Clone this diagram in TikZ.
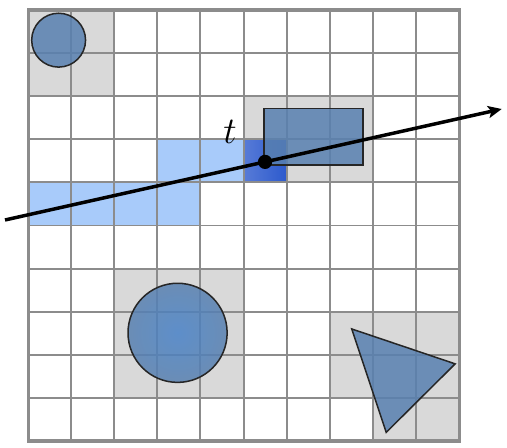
\documentclass[tikz,border=0pt]{standalone}
\usetikzlibrary{arrows.meta}
\definecolor{cellgray}{RGB}{217,217,217}
\definecolor{gridgray}{RGB}{140,140,140}
\definecolor{lightblue}{RGB}{168,203,250}
\definecolor{darkblue}{RGB}{45,90,205}
\definecolor{shapeblue}{RGB}{88,128,176}
\definecolor{shapeblueinner}{RGB}{72,130,200}
\begin{document}
\begin{tikzpicture}[x=1cm,y=-1cm,
  graycell/.style={fill=cellgray},
  lbcell/.style={fill=lightblue},
  obj/.style={draw=black!85,line width=1pt,fill=shapeblue,fill opacity=0.85},
  gridline/.style={draw=gridgray,line width=1.3pt},
  ray/.style={line width=2.3pt,-{Stealth[length=9pt,width=8pt,inset=2pt]}}]
\useasboundingbox (-0.65,-0.232) rectangle (11.113,10.162);
\fill[white] (-0.65,-0.232) rectangle (11.113,10.162);
% gray cells
\fill[graycell] (0,0) rectangle (2,2);
\fill[graycell] (5,2) rectangle (8,4);
\fill[graycell] (2,6) rectangle (5,9);
\fill[graycell] (7,7) rectangle (10,9);
\fill[graycell] (8,9) rectangle (10,10);
% light blue cells
\fill[lbcell] (0,4) rectangle (4,5);
\fill[lbcell] (3,3) rectangle (5,4);
% dark blue cell
\shade[left color=darkblue!80!white,right color=darkblue] (5,3) rectangle (6,4);
% grid
\draw[gridline] (0,0) grid (10,10);
\draw[gridgray,line width=2pt] (0,0) rectangle (10,10);
% objects
\draw[obj] (0.71,0.70) circle (0.625);
\draw[obj] (5.48,2.28) rectangle (7.77,3.6);
\shade[inner color=shapeblueinner,outer color=shapeblue,opacity=0.85] (3.47,7.49) circle (1.15);
\draw[draw=black!85,line width=1pt] (3.47,7.49) circle (1.15);
\draw[obj] (7.51,7.40) -- (9.91,8.21) -- (8.31,9.80) -- cycle;
% ray
\coordinate (rs) at (-0.534,4.872);
\coordinate (re) at (10.99,2.297);
\draw[ray] (rs) -- (re);
\fill (5.50,3.524) circle (0.165);
\node[font=\Huge] (t) at (4.69,2.84) {$t$};
\end{tikzpicture}
\end{document}
